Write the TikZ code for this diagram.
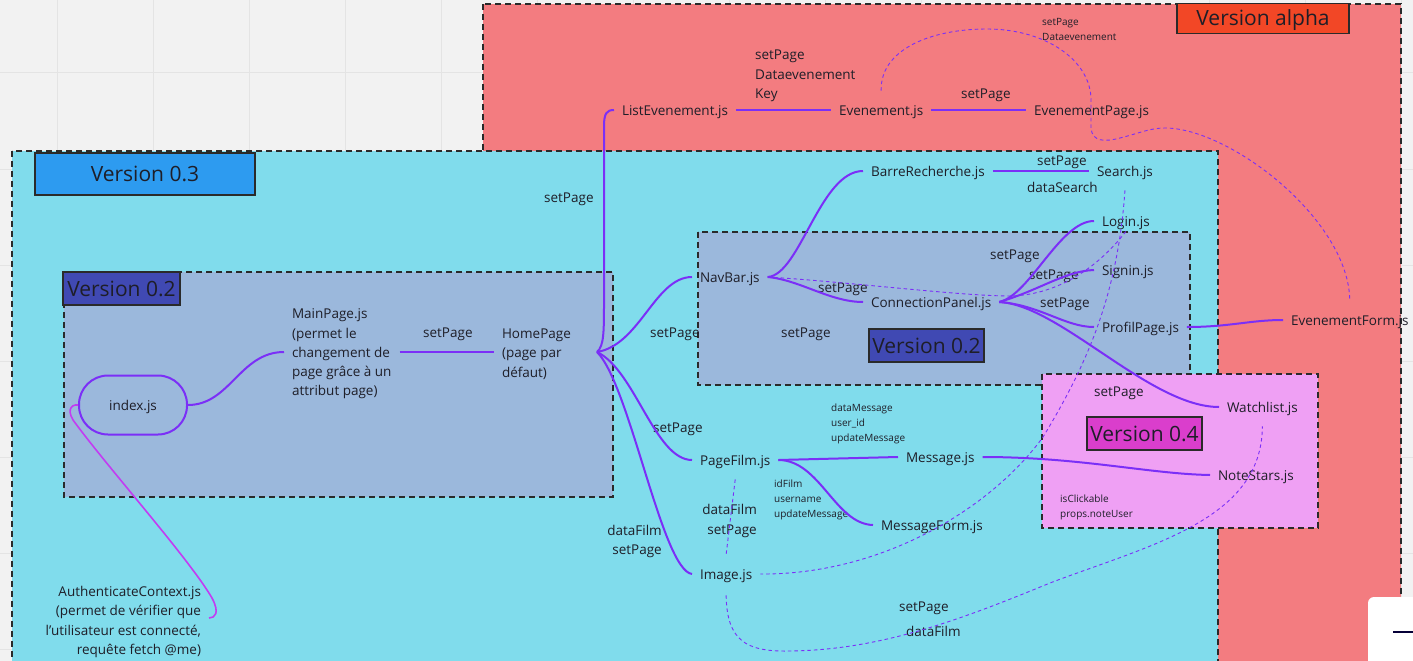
\documentclass[tikz,border=0pt]{standalone}
\usepackage{fontspec}
\setmainfont{Open Sans}[Ligatures=ResetAll]
\definecolor{bgc}{HTML}{F2F2F2}
\definecolor{gridc}{HTML}{E4E4E4}
\definecolor{alphafill}{HTML}{F37C80}
\definecolor{alphalab}{HTML}{F24726}
\definecolor{cyanfill}{HTML}{80DCEC}
\definecolor{v3lab}{HTML}{2D9BF0}
\definecolor{v2fill}{HTML}{9BB8DC}
\definecolor{v2lab}{HTML}{4049B3}
\definecolor{v4fill}{HTML}{EFA0F4}
\definecolor{v4lab}{HTML}{DA3ECC}
\definecolor{edgec}{HTML}{7B2FF7}
\definecolor{magc}{HTML}{C23CF2}
\definecolor{txt}{HTML}{1E1E28}
\definecolor{bord}{HTML}{2A2A2A}
\definecolor{navyc}{HTML}{050038}
\begin{document}
\begin{tikzpicture}[x=1pt,y=-1pt,
  region/.style={draw=bord, line width=1.8pt, dash pattern=on 6pt off 4pt},
  verlab/.style={draw=bord, line width=1.6pt, text=txt, inner sep=0pt, text height=15pt, text depth=0pt, font=\fontsize{21}{24}\selectfont},
  fn/.style={anchor=west, inner xsep=0pt, outer xsep=8pt, inner ysep=0pt, text height=12.5pt, text depth=2pt, font=\fontsize{13.5}{19.3}\selectfont, text=txt},
  mlab/.style={anchor=west, inner sep=0pt, outer xsep=8pt, align=left, yshift=-2pt, font=\fontsize{13.5}{19.3}\selectfont, text=txt},
  lab/.style={anchor=west, inner sep=0pt, align=left, yshift=-2pt, font=\fontsize{13.5}{19.3}\selectfont, text=txt},
  sml/.style={anchor=west, inner sep=0pt, align=left, yshift=-1.5pt, font=\fontsize{10}{15}\selectfont, text=txt},
  conn/.style={draw=edgec, line width=2pt},
  dconn/.style={draw=edgec, line width=0.9pt, dash pattern=on 3.5pt off 3pt},
  mconn/.style={draw=magc, line width=1.6pt}
]
\useasboundingbox (0,0) rectangle (1413,661);
\clip (0,0) rectangle (1413,661);
% background and grid
\fill[bgc] (0,0) rectangle (1413,661);
\foreach \gx in {57,153,...,1401} \draw[gridc, line width=1pt] (\gx,0) -- (\gx,661);
\foreach \gy in {73,169,...,649} \draw[gridc, line width=1pt] (0,\gy) -- (1413,\gy);
% regions
\draw[region, fill=alphafill] (483,4) rectangle (1401,700);
\draw[region, fill=cyanfill] (12,151) rectangle (1218,700);
\draw[region, fill=v2fill] (64,272) rectangle (613,497);
\draw[region, fill=v2fill] (698,232) rectangle (1190,385);
\draw[region, fill=v4fill] (1042,374) rectangle (1318,528);
% version labels
\node[verlab, fill=alphalab, minimum width=172pt, minimum height=30pt] (valpha) at (1263,18.5) {Version alpha};
\node[verlab, fill=v3lab, minimum width=220pt, minimum height=42pt] (v03) at (145,174) {Version 0.3};
\node[verlab, fill=v2lab, minimum width=117pt, minimum height=33pt] (v02a) at (121.5,288.5) {Version 0.2};
\node[verlab, fill=v2lab, minimum width=115pt, minimum height=33pt] (v02b) at (926.5,345.5) {Version 0.2};
\node[verlab, fill=v4lab, minimum width=115pt, minimum height=33pt] (v04) at (1144.5,433.5) {Version 0.4};
% nodes
\node[fn] (list) at (614,110) {ListEvenement.js};
\node[fn] (even) at (831,110) {Evenement.js};
\node[fn] (evpage) at (1026,110) {EvenementPage.js};
\node[fn] (barre) at (863,171) {BarreRecherche.js};
\node[fn] (search) at (1089,171) {Search.js};
\node[fn] (login) at (1094,221) {Login.js};
\node[fn] (signin) at (1094,270) {Signin.js};
\node[fn] (profil) at (1094,327) {ProfilPage.js};
\node[fn] (connp) at (863,302) {ConnectionPanel.js};
\node[fn] (navbar) at (692,277) {NavBar.js};
\node[fn] (evform) at (1283,320) {EvenementForm.js};
\node[fn] (watch) at (1219,407) {Watchlist.js};
\node[fn] (notes) at (1210,475) {NoteStars.js};
\node[fn] (message) at (898,457) {Message.js};
\node[fn] (msgform) at (873,525) {MessageForm.js};
\node[fn] (pagefilm) at (692,460) {PageFilm.js};
\node[fn] (image) at (692,574) {Image.js};
\node[mlab] (home) at (494,352) {HomePage\\(page par\\défaut)};
\node[mlab] (main) at (284,352) {MainPage.js\\(permet le\\changement de\\page grâce à un\\attribut page)};
\node[draw=edgec, line width=2pt, rounded corners=29pt, minimum width=108pt, minimum height=59pt, inner sep=0pt, text height=12.5pt, text depth=2pt, text=txt, font=\fontsize{13.5}{19.3}\selectfont] (index) at (133,405) {index.js};
\node[mlab, anchor=east, align=right] (auth) at (209,620) {AuthenticateContext.js\\(permet de vérifier que\\l'utilisateur est connecté,\\requête fetch @me)};
\coordinate (hub) at (597,352);
% labels
\node[lab] (t1) at (755,74) {setPage\\Dataevenement\\Key};
\node[lab] (t2) at (961,93) {setPage};
\node[sml] (t3) at (1042,28) {setPage\\Dataevenement};
\node[lab] (t4) at (544,197) {setPage};
\node[lab] (t5) at (423,332) {setPage};
\node[lab] (t6) at (650,332) {setPage};
\node[lab] (t7) at (781,332) {setPage};
\node[lab] (t8) at (818,287) {setPage};
\node[lab] (t9) at (1037,160) {setPage};
\node[lab] (t10) at (1027,185) {dataSearch};
\node[lab] (t11) at (990,254) {setPage};
\node[lab] (t12) at (1029,274) {setPage};
\node[lab] (t13) at (1040,302) {setPage};
\node[lab] (t14) at (1094,391) {setPage};
\node[lab] (t15) at (653,427) {setPage};
\node[lab, anchor=east, align=right] (t16) at (662,539.5) {dataFilm\\setPage};
\node[lab, anchor=east, align=right] (t17) at (757,519) {dataFilm\\setPage};
\node[sml] (t18) at (831,422.5) {dataMessage\\user\_id\\updateMessage};
\node[sml] (t19) at (774,498) {idFilm\\username\\updateMessage};
\node[sml] (t20) at (1060,505.5) {isClickable\\props.noteUser};
\node[lab] (t21) at (899,606) {setPage};
\node[lab] (t22) at (906,629) {dataFilm};
% solid connectors
\draw[conn] (index.east) .. controls (230,405) and (240,352) .. ([yshift=2pt]main.west);
\draw[conn] ([yshift=2pt]main.east) -- ([yshift=2pt]home.west);
\draw[conn] (hub) .. controls (604,346) and (604,332) .. (604,300) -- (604,126) .. controls (604,113) and (607,110) .. (list.west);
\draw[conn] (hub) .. controls (640,345) and (655,277) .. (navbar.west);
\draw[conn] (hub) .. controls (635,370) and (655,460) .. (pagefilm.west);
\draw[conn] (hub) .. controls (630,385) and (662,570) .. (image.west);
\draw[conn] (list.east) -- (even.west);
\draw[conn] (even.east) -- (evpage.west);
\draw[conn] (barre.east) -- (search.west);
\draw[conn] (navbar.east) .. controls (800,275) and (820,171) .. (barre.west);
\draw[conn] (navbar.east) .. controls (800,280) and (830,302) .. (connp.west);
\draw[conn] (connp.east) .. controls (1030,295) and (1060,221) .. (login.west);
\draw[conn] (connp.east) .. controls (1040,290) and (1065,271) .. (signin.west);
\draw[conn] (connp.east) .. controls (1040,305) and (1065,327) .. (profil.west);
\draw[conn] (connp.east) .. controls (1060,305) and (1150,407) .. (watch.west);
\draw[conn] (profil.east) .. controls (1230,327) and (1250,320) .. (evform.west);
\draw[conn] (pagefilm.east) -- (message.west);
\draw[conn] (pagefilm.east) .. controls (820,460) and (835,524) .. (msgform.west);
\draw[conn] (message.east) .. controls (1080,457) and (1150,474) .. (notes.west);
\draw[mconn] (index.west) .. controls (70,404) and (66,412) .. (76,424) .. controls (110,470) and (190,560) .. (212,598) .. controls (220,613) and (215,618) .. ([yshift=4pt]auth.east);
% dashed connectors
\draw[dconn] ([yshift=12pt]even.north) .. controls (880,50) and (930,29) .. (987,29) .. controls (1045,29) and (1091,60) .. (1091,100) -- (1091,128) .. controls (1092,142) and (1105,142) .. (1120,138) .. controls (1140,133) and (1150,128) .. (1165,128) .. controls (1230,128) and (1349,220) .. ([yshift=12pt]evform.north);
\draw[dconn] (navbar.east) .. controls (850,282) and (960,296) .. (1010,296) .. controls (1060,295) and (1100,265) .. ([yshift=-3pt]login.south);
\draw[dconn] ([yshift=-12pt]search.south) .. controls (1118,290) and (1090,360) .. (1043,437) .. controls (990,510) and (880,575) .. (image.east);
\draw[dconn] ([yshift=-12pt]pagefilm.south) -- ([yshift=12pt]image.north);
\draw[dconn] ([yshift=-14pt]image.south) .. controls (727,640) and (745,652) .. (790,651) .. controls (880,650) and (960,620) .. (1050,583) .. controls (1150,545) and (1262,520) .. ([yshift=-12pt]watch.south);
% zoom widget
\fill[white, rounded corners=6pt] (1368,597) rectangle (1440,690);
\draw[navyc, line width=2.5pt] (1393,632) -- (1413,632);
\end{tikzpicture}
\end{document}
